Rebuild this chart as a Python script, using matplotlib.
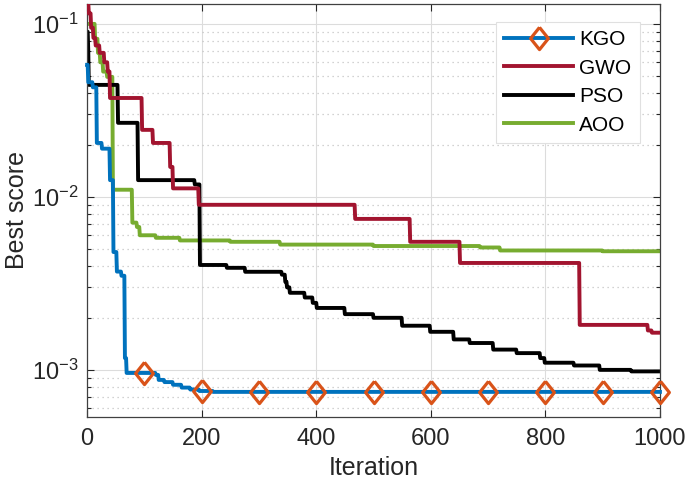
import matplotlib
matplotlib.use("Agg")
import matplotlib.pyplot as plt
import numpy as np
from matplotlib.ticker import LogLocator, FixedLocator

# breakpoints (iteration, best score) of each convergence curve
kgo_it = [0, 2, 10, 17, 26, 40, 46, 52, 60, 66, 69, 120, 125, 135, 150, 165, 180, 196, 220]
kgo_val = [0.058, 0.046, 0.043, 0.0205, 0.019, 0.0125, 0.0048, 0.0037, 0.0035, 0.00117,
           0.00096, 0.000935, 0.000875, 0.00085, 0.00082, 0.00079, 0.00077, 0.000755, 0.000746]

gwo_it = [0, 3, 7, 11, 15, 22, 30, 36, 40, 96, 115, 145, 150, 195, 468, 564, 651, 860, 979, 986]
gwo_val = [0.132, 0.115, 0.095, 0.083, 0.075, 0.068, 0.060, 0.053, 0.0373, 0.0244, 0.0205,
           0.0149, 0.0112, 0.0090, 0.00746, 0.0055, 0.00415, 0.00182, 0.00169, 0.00164]

pso_it = [0, 2, 3, 54, 89, 188, 197, 244, 276, 340, 346, 349, 354, 380, 394, 401, 450, 500,
          550, 599, 640, 668, 709, 750, 791, 799, 850, 895, 950]
pso_val = [0.09, 0.07, 0.0444, 0.0268, 0.0125, 0.0118, 0.00404, 0.00389, 0.00369, 0.00355,
           0.00323, 0.0030, 0.00279, 0.00262, 0.00244, 0.00228, 0.0021, 0.0020, 0.0018,
           0.00166, 0.0015, 0.00143, 0.00131, 0.00125, 0.00117, 0.0011, 0.00106, 0.0010, 0.00098]

aoo_it = [0, 14, 19, 23, 28, 35, 45, 79, 87, 92, 120, 162, 250, 337, 500, 686, 721, 900]
aoo_val = [0.10, 0.082, 0.068, 0.060, 0.053, 0.0494, 0.011, 0.0071, 0.0067, 0.0060, 0.0058,
           0.0056, 0.0055, 0.0053, 0.0052, 0.0051, 0.0049, 0.00485]

names = ["KGO", "GWO", "PSO", "AOO"]
colors = ["#0072BD", "#A2142F", "#000000", "#77AC30"]
n_iter = 1000


def expand(it, val):
    # best-so-far curve is a step function: hold each value until the next breakpoint
    x = np.arange(n_iter + 1)
    idx = np.searchsorted(it, x, side="right") - 1
    return x, np.asarray(val)[idx]


plt.rcParams["font.family"] = ["Liberation Sans", "DejaVu Sans"]
plt.rcParams["mathtext.default"] = "regular"

fig = plt.figure(figsize=(6.86, 4.87), dpi=100)
ax = fig.add_axes([0.127, 0.144, 0.835, 0.848])

# slightly tall diamond like the MATLAB one
diamond = [(0, 1), (0.8, 0), (0, -1), (-0.8, 0), (0, 1)]

curves = [(kgo_it, kgo_val), (gwo_it, gwo_val), (pso_it, pso_val), (aoo_it, aoo_val)]
handles = {}
for i in [3, 2, 1, 0]:  # reverse so KGO ends on top
    x, y = expand(*curves[i])
    if i == 0:
        h, = ax.plot(x, y, color=colors[i], lw=2.8, marker=diamond, ms=16, mfc="none",
                     mec="#D95319", mew=2.3, markevery=list(range(100, n_iter + 1, 100)),
                     label=names[i], zorder=5, clip_on=False)
    else:
        h, = ax.plot(x, y, color=colors[i], lw=2.8, label=names[i], zorder=4 - i)
    handles[i] = h

ax.set_yscale("log")
ax.set_xlim(0, 1000)
ax.set_ylim(5.35e-4, 0.1305)
ax.set_xticks([0, 200, 400, 600, 800, 1000])
ax.yaxis.set_major_locator(FixedLocator([1e-3, 1e-2, 1e-1]))
ax.yaxis.set_minor_locator(LogLocator(base=10, subs=np.arange(2, 10)))

axcol = "#262626"
ax.tick_params(which="both", direction="in", top=True, right=True, colors=axcol,
               labelsize=17, width=0.8)
ax.tick_params(which="major", length=5, pad=8)
ax.tick_params(axis="y", which="major", pad=6)
ax.tick_params(which="minor", length=3)
ax.tick_params(axis="x", which="minor", top=False, bottom=False)
for s in ax.spines.values():
    s.set_color("#404040")
    s.set_linewidth(0.9)

ax.grid(True, which="major", color="#dcdcdc", lw=0.8)
ax.grid(True, which="minor", axis="y", color="#c4c4c4", lw=0.9, ls=(0, (1, 3)))
ax.set_axisbelow(True)

ax.set_xlabel("Iteration", fontsize=18, color=axcol, labelpad=4)
ax.set_ylabel("Best score", fontsize=18, color=axcol, labelpad=2)

leg = ax.legend([handles[i] for i in range(4)], names, loc="upper right",
                bbox_to_anchor=(0.965, 0.956), borderaxespad=0, fontsize=15,
                handlelength=3.3, handletextpad=0.3, labelspacing=0.45,
                fancybox=False, framealpha=1, edgecolor="#e0e0e0", borderpad=0.4)
leg.get_frame().set_linewidth(0.8)

fig.savefig("out.png", dpi=100)
